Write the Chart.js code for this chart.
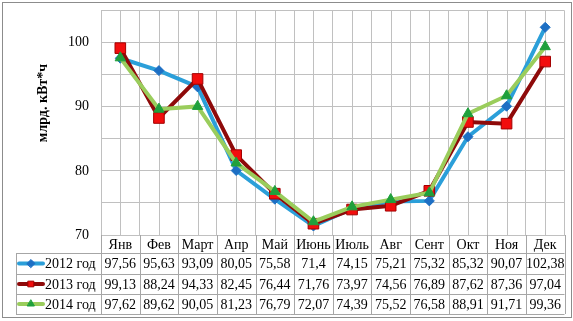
<!DOCTYPE html>
<html lang="ru">
<head>
    <meta charset="UTF-8">
    <title>Потребление электроэнергии</title>
    <script src="https://cdn.jsdelivr.net/npm/chart.js@4.4.1/dist/chart.umd.min.js"></script>
    <style>
        body {
            margin: 0;
            background: #fff;
        }
        #wrap {
            width: 573px;
            height: 321px;
        }
    </style>
</head>
<body>
    <div id="wrap">
        <canvas id="chart" width="573" height="321"></canvas>
    </div>

    <script>
        const months = ['Янв', 'Фев', 'Март', 'Апр', 'Май', 'Июнь', 'Июль', 'Авг', 'Сент', 'Окт', 'Ноя', 'Дек'];
        const values2012 = [97.56, 95.63, 93.09, 80.05, 75.58, 71.4, 74.15, 75.21, 75.32, 85.32, 90.07, 102.38];
        const values2013 = [99.13, 88.24, 94.33, 82.45, 76.44, 71.76, 73.97, 74.56, 76.89, 87.62, 87.36, 97.04];
        const values2014 = [97.62, 89.62, 90.05, 81.23, 76.79, 72.07, 74.39, 75.52, 76.58, 88.91, 91.71, 99.36];
        const seriesNames = ['2012 год', '2013 год', '2014 год'];
        const yLabel = 'млрд. кВт*ч';

        const FONT = '"Liberation Serif", "Times New Roman", serif';
        const GRID = '#c0c0c0';
        const TABLE_LINE = '#a6a6a6';

        // numbers in the table use a comma, as in the original
        function fmt(v) {
            return String(v).replace('.', ',');
        }

        // extra vertical lines through category centres
        const centreLines = {
            id: 'centreLines',
            beforeDatasetsDraw(chart) {
                const { ctx, chartArea, scales: { x } } = chart;
                ctx.save();
                ctx.strokeStyle = GRID;
                ctx.lineWidth = 1;
                months.forEach((m, i) => {
                    const px = Math.round(x.getPixelForValue(i)) + 0.5;
                    ctx.beginPath();
                    ctx.moveTo(px, chartArea.top);
                    ctx.lineTo(px, chartArea.bottom);
                    ctx.stroke();
                });
                ctx.restore();
            }
        };

        // data table under the plot, columns taken from the x scale
        const dataTable = {
            id: 'dataTable',
            afterDraw(chart) {
                const { ctx, chartArea, scales: { x } } = chart;
                const half = (x.getPixelForValue(1) - x.getPixelForValue(0)) / 2;
                const top = chartArea.bottom;
                const rowTops = [top, 253, 274, 294, 314];
                const tableLeft = 16;
                const right = chartArea.right;
                const sets = chart.data.datasets;

                ctx.save();
                ctx.strokeStyle = TABLE_LINE;
                ctx.lineWidth = 1;

                // horizontal lines
                for (let r = 1; r < rowTops.length; r++) {
                    const y = rowTops[r] + 0.5;
                    ctx.beginPath();
                    ctx.moveTo(tableLeft, y);
                    ctx.lineTo(right, y);
                    ctx.stroke();
                }
                // vertical lines
                ctx.beginPath();
                ctx.moveTo(tableLeft + 0.5, rowTops[1]);
                ctx.lineTo(tableLeft + 0.5, rowTops[4]);
                ctx.stroke();
                for (let i = 0; i <= months.length; i++) {
                    const px = Math.round(x.getPixelForValue(i) - half) + 0.5;
                    ctx.beginPath();
                    ctx.moveTo(px, top);
                    ctx.lineTo(px, rowTops[4]);
                    ctx.stroke();
                }

                ctx.fillStyle = '#000';
                ctx.font = '14px ' + FONT;
                ctx.textAlign = 'center';
                ctx.textBaseline = 'middle';
                months.forEach((m, i) => {
                    ctx.fillText(m, x.getPixelForValue(i), (rowTops[0] + rowTops[1]) / 2 + 1);
                });

                sets.forEach((ds, s) => {
                    const yMid = (rowTops[s + 1] + rowTops[s + 2]) / 2 + 1;
                    ds.data.forEach((v, i) => {
                        ctx.fillText(fmt(v), x.getPixelForValue(i), yMid);
                    });

                    // legend key: line + small marker
                    ctx.strokeStyle = ds.borderColor;
                    ctx.lineWidth = 4;
                    ctx.lineCap = 'round';
                    ctx.beginPath();
                    ctx.moveTo(19, yMid - 1);
                    ctx.lineTo(43, yMid - 1);
                    ctx.stroke();
                    ctx.fillStyle = ds.pointBackgroundColor;
                    ctx.strokeStyle = ds.pointBorderColor;
                    ctx.lineWidth = 1;
                    Chart.helpers.drawPoint(ctx, {
                        pointStyle: ds.pointStyle,
                        radius: 4,
                        borderWidth: 1,
                        rotation: 0
                    }, 31, yMid - 1);

                    ctx.fillStyle = '#000';
                    ctx.textAlign = 'left';
                    ctx.fillText(ds.label, 45, yMid);
                    ctx.textAlign = 'center';
                });

                // y axis title
                ctx.save();
                ctx.translate(43, 103);
                ctx.rotate(-Math.PI / 2);
                ctx.font = 'bold 14px ' + FONT;
                ctx.fillStyle = '#000';
                ctx.fillText(yLabel, 0, 0);
                ctx.restore();

                // outer frame
                ctx.strokeStyle = '#8c8c8c';
                ctx.lineWidth = 1;
                ctx.strokeRect(2.5, 2.5, 569, 315);
                ctx.restore();
            }
        };

        const ctx = document.getElementById('chart').getContext('2d');
        new Chart(ctx, {
            type: 'line',
            data: {
                labels: months,
                datasets: [{
                    label: seriesNames[0],
                    data: values2012,
                    borderColor: '#2b9fd9',
                    borderWidth: 4,
                    pointStyle: 'rectRot',
                    pointRadius: 5,
                    pointBackgroundColor: '#1d6fc4',
                    pointBorderColor: '#1d6fc4',
                    pointBorderWidth: 1,
                    order: 2
                }, {
                    label: seriesNames[1],
                    data: values2013,
                    borderColor: '#8e0a0a',
                    borderWidth: 4,
                    pointStyle: 'rect',
                    pointRadius: 7.5,
                    pointBackgroundColor: '#f20d0d',
                    pointBorderColor: '#a30000',
                    pointBorderWidth: 1,
                    order: 1
                }, {
                    label: seriesNames[2],
                    data: values2014,
                    borderColor: '#9acd5c',
                    borderWidth: 4,
                    pointStyle: 'triangle',
                    pointRadius: 6,
                    pointBackgroundColor: '#1fa03c',
                    pointBorderColor: '#1fa03c',
                    pointBorderWidth: 1,
                    order: 0
                }]
            },
            options: {
                responsive: false,
                animation: false,
                layout: {
                    padding: { top: 10.5, right: 3, bottom: 86, left: 0 }
                },
                plugins: {
                    legend: { display: false },
                    tooltip: { enabled: false }
                },
                elements: {
                    line: { tension: 0 }
                },
                scales: {
                    x: {
                        offset: true,
                        grid: { color: GRID, offset: true, drawTicks: false },
                        border: { color: GRID },
                        ticks: { display: false },
                        afterFit(scale) {
                            scale.height = 0;
                            scale.paddingLeft = 0;
                            scale.paddingRight = 0;
                        }
                    },
                    y: {
                        min: 70,
                        max: 105,
                        grid: { color: GRID, drawTicks: false },
                        border: { color: GRID },
                        ticks: {
                            stepSize: 5,
                            autoSkip: false,
                            padding: 12,
                            color: '#000',
                            font: { family: FONT, size: 14 },
                            callback: v => (v % 10 === 0 ? v : '')
                        },
                        afterFit(scale) {
                            scale.width = 101;
                            scale.paddingTop = 0;
                            scale.paddingBottom = 0;
                        }
                    }
                }
            },
            plugins: [centreLines, dataTable]
        });
    </script>
</body>
</html>
